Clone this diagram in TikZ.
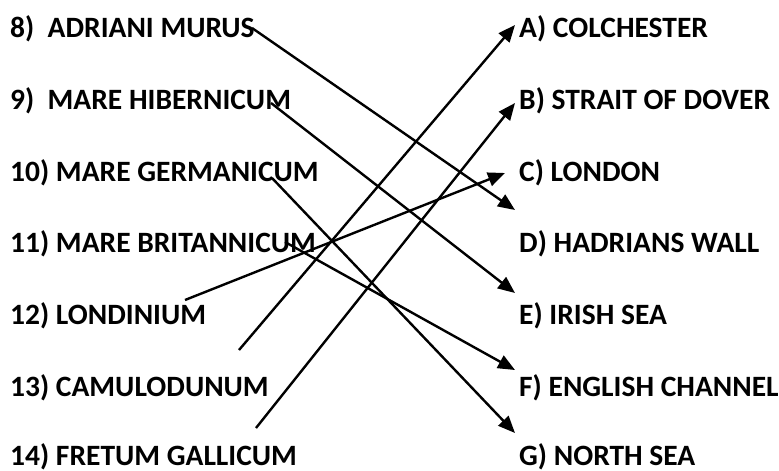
\documentclass[tikz,border=0pt]{standalone}
\usepackage{fontspec}
\setmainfont{Carlito}
\usetikzlibrary{arrows.meta}
\tikzset{
  item/.style={anchor=base west,inner sep=0pt,font=\fontsize{29.5}{35}\selectfont\bfseries},
  link/.style={-{Triangle[length=17pt,width=14pt]},line width=2.4pt},
}
\begin{document}
\begin{tikzpicture}[x=1pt,y=-1pt]
  \useasboundingbox (0,0) rectangle (779,471);
  % latin names
  \node[item] (adriani) at (10,37) {8)\ \ ADRIANI MURUS};
  \node[item] (hibernicum) at (10,109) {9)\ \ MARE HIBERNICUM};
  \node[item] (germanicum) at (10,181) {10) MARE GERMANICUM};
  \node[item] (britannicum) at (10,252.5) {11) MARE BRITANNICUM};
  \node[item] (londinium) at (10,324.5) {12) LONDINIUM};
  \node[item] (camulodunum) at (10,396) {13) CAMULODUNUM};
  \node[item] (fretum) at (10,465) {14) FRETUM GALLICUM};
  % english names
  \node[item] (colchester) at (519,37) {A) COLCHESTER};
  \node[item] (dover) at (519,109) {B) STRAIT OF DOVER};
  \node[item] (london) at (519,181) {C) LONDON};
  \node[item] (hadrian) at (519,252.5) {D) HADRIANS WALL};
  \node[item] (irish) at (519,324.5) {E) IRISH SEA};
  \node[item] (channel) at (519,396) {F) ENGLISH CHANNEL};
  \node[item] (north) at (519,465) {G) NORTH SEA};
  % arrow ends
  \coordinate (s8) at (252,28);   \coordinate (t8) at (515,210);
  \coordinate (s9) at (271,103);  \coordinate (t9) at (515,293);
  \coordinate (s10) at (272,178); \coordinate (t10) at (515,433);
  \coordinate (s11) at (285,242); \coordinate (t11) at (515,370);
  \coordinate (s12) at (185,300); \coordinate (t12) at (505,173);
  \coordinate (s13) at (239,350); \coordinate (t13) at (515,25);
  \coordinate (s14) at (256,428); \coordinate (t14) at (515,103);
  \draw[link] (s8) -- (t8);
  \draw[link] (s9) -- (t9);
  \draw[link] (s10) -- (t10);
  \draw[link] (s11) -- (t11);
  \draw[link] (s12) -- (t12);
  \draw[link] (s13) -- (t13);
  \draw[link] (s14) -- (t14);
\end{tikzpicture}
\end{document}
